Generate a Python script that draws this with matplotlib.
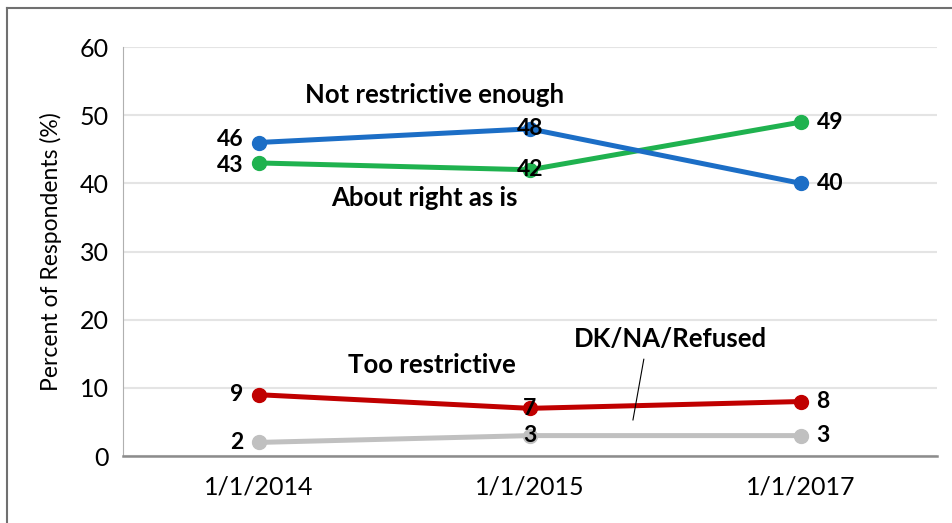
import matplotlib
matplotlib.use("Agg")
import matplotlib.pyplot as plt
from matplotlib.lines import Line2D

plt.rcParams['font.family'] = ['Lato', 'DejaVu Sans']

dates = ['1/1/2014', '1/1/2015', '1/1/2017']
not_enough = [46, 48, 40]
about_right = [43, 42, 49]
too_restrictive = [9, 7, 8]
dk_na = [2, 3, 3]
yticks = [0, 10, 20, 30, 40, 50, 60]

# values, colour, small vertical nudge (pt) of the first label
series = [
    (not_enough, '#1c6ec6', 2),
    (about_right, '#1fb24f', -2),
    (too_restrictive, '#c00000', 0),
    (dk_na, '#c0c0c0', 0),
]

fig = plt.figure(figsize=(9.53, 5.23), dpi=100)
ax = fig.add_axes([0.129, 0.128, 0.854, 0.782])

x = range(len(dates))
lab = dict(fontsize=16.5, fontweight='bold', va='center')
for vals, col, dy in series[::-1]:
    ax.plot(x, vals, color=col, lw=3.6, marker='o', ms=10, solid_capstyle='round')
    # value labels: left of first point, centred on middle, right of last
    ax.annotate(str(vals[0]), (0, vals[0]), xytext=(-11, dy), textcoords='offset points',
                ha='right', **lab)
    ax.annotate(str(vals[1]), (1, vals[1]), xytext=(0, 0), textcoords='offset points',
                ha='center', **lab)
    ax.annotate(str(vals[2]), (2, vals[2]), xytext=(11, 0), textcoords='offset points',
                ha='left', **lab)

ann = dict(ha='center', va='center', fontsize=18.5, fontweight='bold')
ax.text(0.65, 53, 'Not restrictive enough', **ann)
ax.text(0.61, 37.9, 'About right as is', **ann)
ax.text(0.64, 13.3, 'Too restrictive', **ann)
ax.text(1.52, 17.2, 'DK/NA/Refused', **ann)
ax.plot([1.42, 1.38], [14.2, 5.3], color='black', lw=0.8)

ax.set_xlim(-0.5, 2.5)
ax.set_ylim(0, 60)
ax.set_xticks(list(x))
ax.set_xticklabels(dates, fontsize=18)
ax.set_yticks(yticks)
ax.tick_params(axis='y', labelsize=18, length=0, pad=10)
ax.tick_params(axis='x', length=0, pad=14)
ax.yaxis.grid(True, color='#e4e4e4', lw=1.5)
ax.set_axisbelow(True)
for s in ['top', 'right']:
    ax.spines[s].set_visible(False)
ax.spines['left'].set_color('#b0b0b0')
ax.spines['bottom'].set_color('#8c8c8c')
ax.spines['bottom'].set_linewidth(1.8)
ax.set_ylabel('Percent of Respondents (%)', fontsize=16.5, labelpad=13)

# outer frame lines of the cropped image
fig.add_artist(Line2D([0.007, 0.007], [0, 0.984], color='#707070', lw=1.5, transform=fig.transFigure))
fig.add_artist(Line2D([0.007, 1.0], [0.984, 0.984], color='#707070', lw=1.5, transform=fig.transFigure))

fig.savefig('out.png', dpi=100)
